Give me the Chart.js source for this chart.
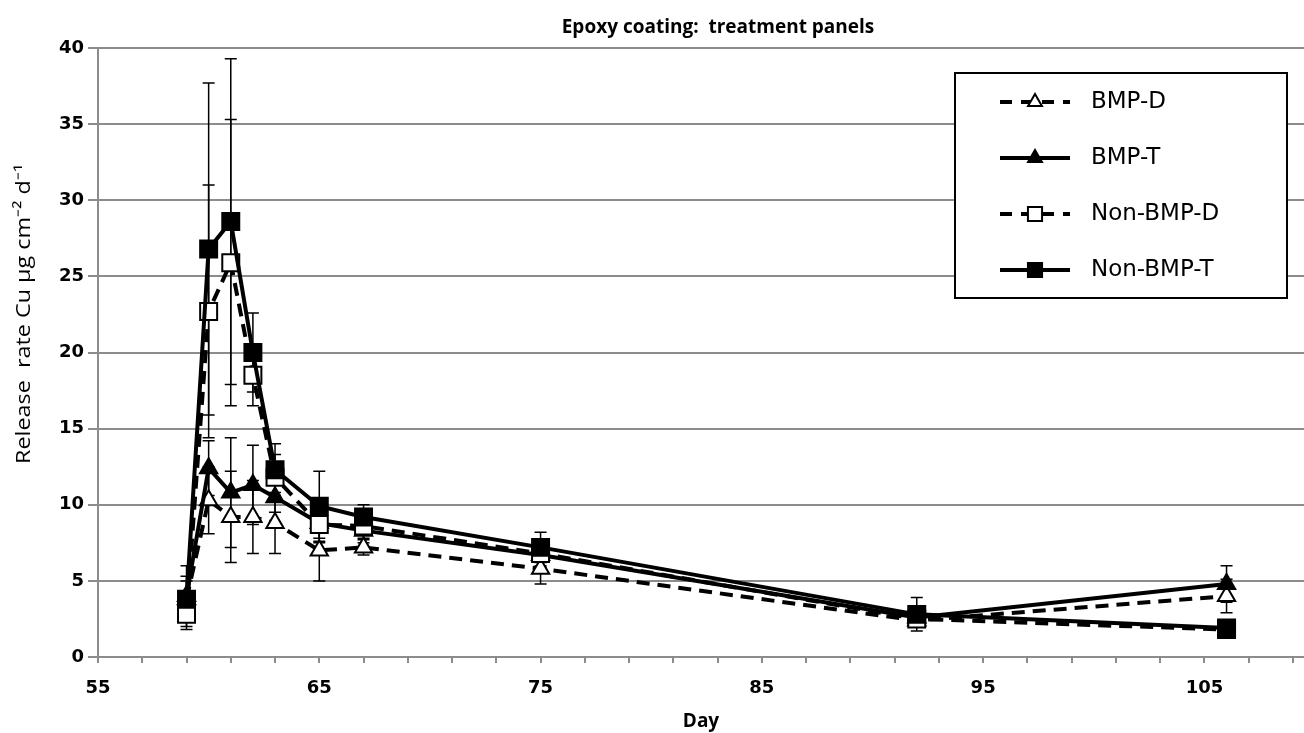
<!DOCTYPE html>
<html>
<head>
<meta charset="utf-8">
<script src="https://cdn.jsdelivr.net/npm/chart.js@4.4.1/dist/chart.umd.min.js"></script>
<style>
  html, body { margin: 0; padding: 0; background: #fff; }
  #wrap { width: 1304px; height: 733px; }
</style>
</head>
<body>
<div id="wrap"><canvas id="c" width="1304" height="733"></canvas></div>
<script>
// Day of sampling
const days = [59, 60, 61, 62, 63, 65, 67, 75, 92, 106];

// Release rate Cu (µg cm-2 d-1), mean and error
const bmpD       = [3.8, 10.3, 9.2, 9.2, 8.8, 7.0, 7.2, 5.8, 2.4, 4.0];
const bmpDErr    = [1.5, 2.2, 3.0, 2.4, 2.0, 2.0, 0.5, 1.0, 0.4, 1.1];
const bmpT       = [4.0, 12.4, 10.8, 11.3, 10.5, 8.8, 8.3, 6.7, 2.6, 4.8];
const bmpTErr    = [2.0, 1.8, 3.6, 2.6, 1.0, 1.0, 0.8, 0.8, 0.5, 1.2];
const nonBmpD    = [2.8, 22.7, 25.9, 18.5, 11.8, 8.7, 8.6, 6.8, 2.5, 1.8];
const nonBmpDErr = [1.0, 8.3, 9.4, 2.0, 1.5, 1.2, 0.8, 0.8, 0.5, 0.3];
const nonBmpT    = [3.8, 26.8, 28.6, 20.0, 12.3, 9.9, 9.2, 7.2, 2.8, 1.9];
const nonBmpTErr = [1.2, 10.9, 10.7, 2.6, 1.7, 2.3, 0.8, 1.0, 1.1, 0.3];

// x tick marks every 2 days, labels every 10
const xTicks = [55, 57, 59, 61, 63, 65, 67, 69, 71, 73, 75, 77, 79, 81, 83, 85, 87, 89, 91, 93, 95, 97, 99, 101, 103, 105, 107, 109];
const xMajor = [55, 65, 75, 85, 95, 105];

const TITLE = "Epoxy coating:  treatment panels";
const Y_TITLE = "Release  rate Cu \u00b5g cm\u207b\u00b2 d\u207b\u00b9";

const pts = (ys) => days.map((d, i) => ({ x: d, y: ys[i] }));

function series(label, ys, errs, style, open, dashed, order) {
  return {
    label,
    data: pts(ys),
    errors: errs,
    borderColor: "#000",
    borderWidth: 4,
    borderDash: dashed ? [13, 8] : [],
    pointStyle: style,
    pointRadius: style === "rect" ? 12 : 10,
    pointBorderWidth: 2,
    pointBorderColor: "#000",
    pointBackgroundColor: open ? "#fff" : "#000",
    tension: 0,
    order,
  };
}

// error bars, drawn under the lines
const errorBars = {
  id: "errorBars",
  beforeDatasetsDraw(chart) {
    const { ctx, scales: { x, y } } = chart;
    ctx.save();
    ctx.strokeStyle = "#000";
    ctx.lineWidth = 1.5;
    chart.data.datasets.forEach(ds => {
      ds.data.forEach((p, i) => {
        const e = ds.errors[i];
        const px = x.getPixelForValue(p.x);
        const top = y.getPixelForValue(p.y + e);
        const bot = y.getPixelForValue(p.y - e);
        ctx.beginPath();
        ctx.moveTo(px, top); ctx.lineTo(px, bot);
        ctx.moveTo(px - 6, top); ctx.lineTo(px + 6, top);
        ctx.moveTo(px - 6, bot); ctx.lineTo(px + 6, bot);
        ctx.stroke();
      });
    });
    ctx.restore();
  }
};

// titles + boxed legend with line samples
const decorations = {
  id: "decorations",
  afterDraw(chart) {
    const ctx = chart.ctx;
    ctx.save();
    ctx.fillStyle = "#000";
    ctx.textAlign = "center";
    ctx.textBaseline = "middle";
    ctx.font = "bold 19px 'Open Sans'";
    ctx.fillText(TITLE, 718, 28);

    // y axis title, stretched to the reference length
    ctx.save();
    ctx.translate(24, 314);
    ctx.rotate(-Math.PI / 2);
    ctx.font = "20px 'Open Sans'";
    const w = ctx.measureText(Y_TITLE).width;
    ctx.scale(300 / w, 1);
    ctx.fillText(Y_TITLE, 0, 0);
    ctx.restore();

    const bx = 955, by = 73, bw = 332, bh = 225;
    ctx.fillStyle = "#fff";
    ctx.fillRect(bx, by, bw, bh);
    ctx.strokeStyle = "#000";
    ctx.lineWidth = 2;
    ctx.strokeRect(bx, by, bw, bh);
    ctx.textAlign = "left";
    chart.data.datasets.forEach((ds, i) => {
      const cy = 102 + i * 56;
      ctx.strokeStyle = "#000";
      ctx.lineWidth = 4;
      ctx.setLineDash(ds.borderDash.length ? [12, 9] : []);
      ctx.beginPath();
      ctx.moveTo(1000, cy); ctx.lineTo(1070, cy);
      ctx.stroke();
      ctx.setLineDash([]);
      ctx.fillStyle = ds.pointBackgroundColor;
      ctx.lineWidth = 2;
      Chart.helpers.drawPoint(ctx, {
        pointStyle: ds.pointStyle,
        radius: ds.pointStyle === "rect" ? 10 : 8,
        borderWidth: 2,
        rotation: 0
      }, 1035, cy);
      ctx.fillStyle = "#000";
      ctx.font = "23px 'DejaVu Sans'";
      ctx.fillText(ds.label, 1091, cy);
    });
    ctx.restore();
  }
};

new Chart(document.getElementById("c"), {
  type: "line",
  data: {
    datasets: [
      series("BMP-D", bmpD, bmpDErr, "triangle", true, true, 4),
      series("BMP-T", bmpT, bmpTErr, "triangle", false, false, 3),
      series("Non-BMP-D", nonBmpD, nonBmpDErr, "rect", true, true, 2),
      series("Non-BMP-T", nonBmpT, nonBmpTErr, "rect", false, false, 1),
    ]
  },
  options: {
    responsive: false,
    animation: false,
    layout: { autoPadding: false, padding: { top: 48, right: 0, left: 0, bottom: 0 } },
    plugins: {
      legend: { display: false },
      tooltip: { enabled: false },
      title: { display: false }
    },
    scales: {
      x: {
        type: "linear",
        min: 55, max: 109.5,
        afterBuildTicks: s => { s.ticks = xTicks.map(v => ({ value: v })); },
        afterFit: s => { s.height = 76; s.paddingRight = 0; s.paddingLeft = 0; },
        ticks: {
          autoSkip: false,
          maxRotation: 0,
          padding: 15,
          color: "#000",
          font: { family: "DejaVu Sans", size: 18, weight: "bold" },
          callback: v => xMajor.includes(v) ? String(v) : ""
        },
        grid: { drawOnChartArea: false, drawTicks: true, tickLength: 6, color: "#8c8c8c", lineWidth: 2 },
        border: { color: "#8c8c8c", width: 2 },
        title: {
          display: true, text: "Day", color: "#000",
          font: { family: "Open Sans", size: 19, weight: "bold" },
          padding: { top: 0, bottom: 0 }
        }
      },
      y: {
        min: 0, max: 40,
        afterFit: s => { s.width = 98; },
        ticks: {
          stepSize: 5,
          padding: 4,
          color: "#000",
          font: { family: "DejaVu Sans", size: 18, weight: "bold" }
        },
        grid: { color: "#8c8c8c", lineWidth: 2, tickLength: 10 },
        border: { color: "#8c8c8c", width: 2 }
      }
    }
  },
  plugins: [errorBars, decorations]
});
</script>
</body>
</html>
